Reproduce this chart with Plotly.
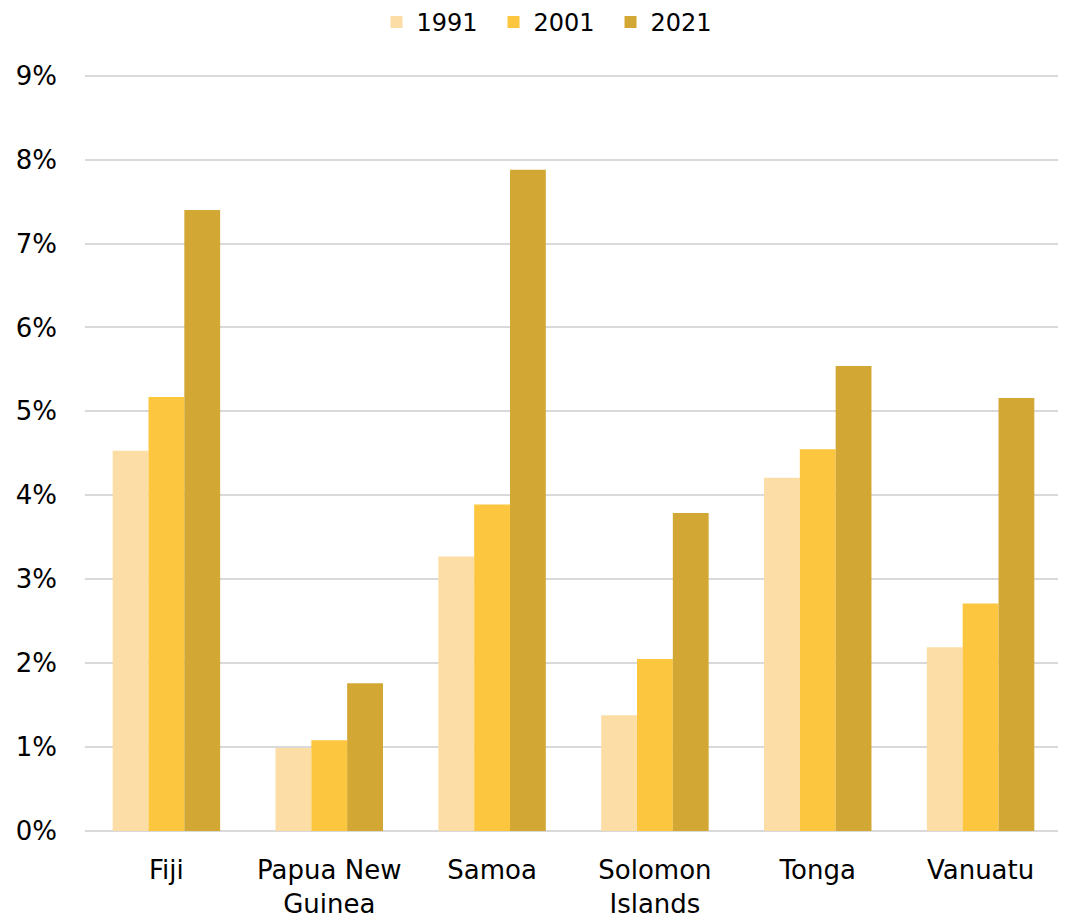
import plotly.graph_objects as go

countries = ["Fiji", "Papua New<br>Guinea", "Samoa", "Solomon<br>Islands", "Tonga", "Vanuatu"]
v1991 = [4.53, 0.99, 3.27, 1.38, 4.21, 2.19]
v2001 = [5.17, 1.08, 3.89, 2.05, 4.55, 2.71]
v2021 = [7.40, 1.76, 7.88, 3.79, 5.54, 5.16]
series_names = ["1991", "2001", "2021"]
colors = ["#FDDDA6", "#FCC63E", "#D2A733"]
y_ticks = [0, 1, 2, 3, 4, 5, 6, 7, 8, 9]
y_tick_labels = [f"{t}%" for t in y_ticks]

fig = go.Figure()
for name, vals, col in zip(series_names, [v1991, v2001, v2021], colors):
    fig.add_trace(go.Bar(
        x=countries, y=vals, name=name,
        marker=dict(color=col, line=dict(width=0)),
    ))

FONT = "'DejaVu Sans', sans-serif"
fig.update_layout(
    width=1066, height=917,
    barmode="group", bargap=0.34, bargroupgap=0,
    plot_bgcolor="white", paper_bgcolor="white",
    margin=dict(l=77, r=12, t=66, b=94, autoexpand=False),
    font=dict(family=FONT, size=26, color="#000000"),
    legend=dict(orientation="h", x=0.478, xanchor="center", y=1.068, yanchor="middle",
                font=dict(size=24), itemwidth=30, entrywidth=72, entrywidthmode="pixels",
                traceorder="normal"),
    yaxis=dict(range=[0, 9.02], tickvals=y_ticks, ticktext=y_tick_labels,
               showgrid=True, gridcolor="#D9D9D9", gridwidth=2,
               zeroline=True, zerolinecolor="#D9D9D9", zerolinewidth=2,
               showline=False, ticks="", ticklabelstandoff=27,
               automargin=False, tickfont=dict(size=26)),
    xaxis=dict(showline=False, ticks="", ticklabelstandoff=21,
               automargin=False, tickfont=dict(size=26)),
)

fig.write_html("out.html")
